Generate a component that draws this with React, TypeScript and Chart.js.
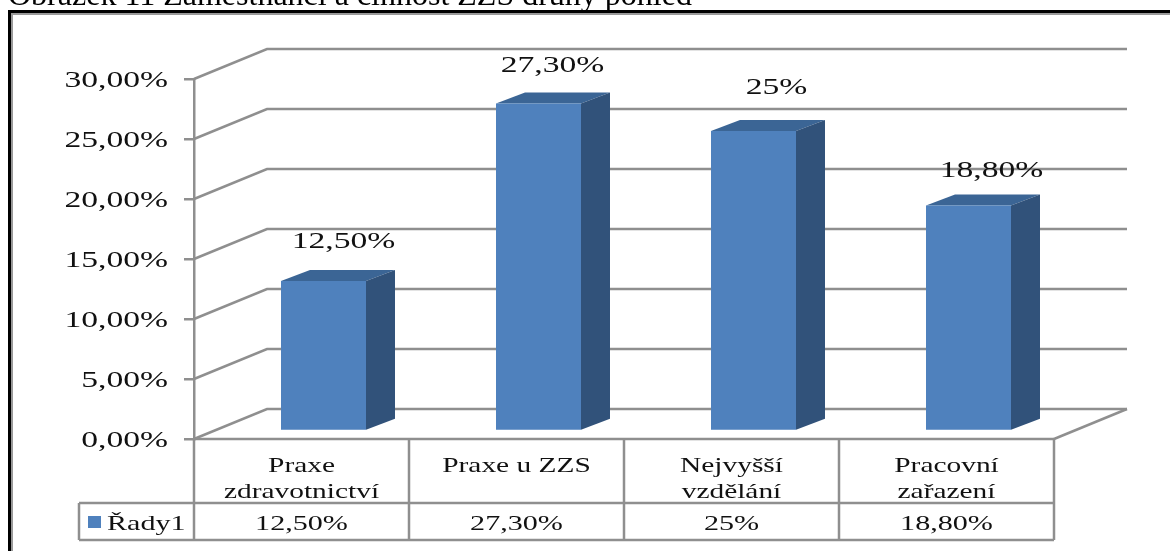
import React, { useEffect, useRef } from "react";
import { Chart, registerables } from "chart.js";

Chart.register(...registerables);

const figureTitle = "Obrázek 11 Zaměstnanci a činnost ZZS druhý pohled";
const categories = [["Praxe", "zdravotnictví"], ["Praxe u ZZS"], ["Nejvyšší", "vzdělání"], ["Pracovní", "zařazení"]];
const seriesName = "Řady1";
const seriesValues = [12.5, 27.3, 25, 18.8];
const valueLabels = ["12,50%", "27,30%", "25%", "18,80%"];
const yMax = 30;
const yStep = 5;

const GRID = "#8f8f8f";
const FRONT = "#4f81bd";
const TOP = "#3b6595";
const SIDE = "#31527a";
const TEXT = "#111111";
const SERIF = "'Liberation Serif', 'Times New Roman', serif";

const PLOT = { left: 194, right: 1054, top: 79, bottom: 439 };
const WALL = { dx: 73, dy: 30 };
const BAR = { dx: 22, dy: 8, depthX: 29, depthY: 11 };
const TABLE = { legendLeft: 79, rowY: 503, bottom: 540 };
const STRETCH = 1.4;
const LABEL_NUDGE = [[20, -39], [14, -38], [23, -43], [23, -35]];

function stretched(ctx: any, fn: () => void, dy = 0) {
  const original = ctx.fillText;
  ctx.fillText = function (t: string, x: number, y: number) {
    ctx.save();
    ctx.translate(x, y + dy);
    ctx.scale(STRETCH, 1);
    original.call(ctx, t, 0, 0);
    ctx.restore();
  };
  fn();
  delete ctx.fillText;
}

const pseudo3d = {
  id: "pseudo3d",
  beforeDraw(chart: any) {
    const ctx = chart.ctx;
    const { x, y } = chart.scales;
    // stretch the axis text, as the source picture is stretched sideways
    [x, y].forEach((s: any) => {
      if (s._wrapped) return;
      const orig = s.drawLabels.bind(s);
      s.drawLabels = (a: any) => stretched(ctx, () => orig(a), s === y ? 2 : 0);
      s._wrapped = true;
    });

    // figure caption and frame
    ctx.save();
    ctx.fillStyle = "#000";
    ctx.font = `32px ${SERIF}`;
    ctx.textBaseline = "alphabetic";
    ctx.textAlign = "left";
    ctx.fillText(figureTitle, 8, 5);
    ctx.strokeStyle = "#000";
    ctx.lineWidth = 3;
    ctx.strokeRect(9.5, 11.5, 1400, 900);
    ctx.strokeStyle = "#9a9a9a";
    ctx.lineWidth = 2;
    ctx.strokeRect(12, 14, 1400, 900);
    ctx.restore();

    // back wall and side wall grid lines
    ctx.save();
    ctx.strokeStyle = GRID;
    ctx.lineWidth = 2.5;
    for (let v = 0; v <= yMax; v += yStep) {
      const py = y.getPixelForValue(v);
      ctx.beginPath();
      ctx.moveTo(PLOT.left, py);
      ctx.lineTo(PLOT.left + WALL.dx, py - WALL.dy);
      ctx.lineTo(PLOT.right + WALL.dx, py - WALL.dy);
      ctx.stroke();
    }
    ctx.beginPath();
    ctx.moveTo(PLOT.right + WALL.dx, PLOT.bottom - WALL.dy);
    ctx.lineTo(PLOT.right, PLOT.bottom);
    ctx.stroke();

    // data table
    const edges = [PLOT.left, ...x.ticks.map((_: any, i: number) => x.getPixelForTick(i) + (PLOT.right - PLOT.left) / categories.length / 2)];
    ctx.beginPath();
    ctx.moveTo(PLOT.left, PLOT.bottom);
    ctx.lineTo(PLOT.right, PLOT.bottom);
    ctx.moveTo(TABLE.legendLeft, TABLE.rowY);
    ctx.lineTo(PLOT.right, TABLE.rowY);
    ctx.moveTo(TABLE.legendLeft, TABLE.bottom);
    ctx.lineTo(PLOT.right, TABLE.bottom);
    ctx.moveTo(TABLE.legendLeft, TABLE.rowY);
    ctx.lineTo(TABLE.legendLeft, TABLE.bottom);
    edges.forEach((e: number) => {
      ctx.moveTo(e, PLOT.bottom);
      ctx.lineTo(e, TABLE.bottom);
    });
    ctx.stroke();
    ctx.restore();

    ctx.save();
    ctx.fillStyle = FRONT;
    ctx.fillRect(TABLE.legendLeft + 9, 516, 13, 12);
    ctx.fillStyle = TEXT;
    ctx.font = `21.5px ${SERIF}`;
    ctx.textBaseline = "middle";
    ctx.textAlign = "center";
    stretched(ctx, () => {
      ctx.textAlign = "left";
      ctx.fillText(seriesName, TABLE.legendLeft + 28, 524);
      ctx.textAlign = "center";
      valueLabels.forEach((t, i) => ctx.fillText(t, x.getPixelForTick(i), 524));
    });
    ctx.restore();
  },
  beforeDatasetDraw(chart: any, args: any) {
    const ctx = chart.ctx;
    ctx.save();
    ctx.translate(BAR.dx, -BAR.dy);
    chart.getDatasetMeta(args.index).data.forEach((b: any) => {
      const l = b.x - b.width / 2;
      const r = b.x + b.width / 2;
      ctx.fillStyle = TOP;
      ctx.beginPath();
      ctx.moveTo(l, b.y);
      ctx.lineTo(l + BAR.depthX, b.y - BAR.depthY);
      ctx.lineTo(r + BAR.depthX, b.y - BAR.depthY);
      ctx.lineTo(r, b.y);
      ctx.closePath();
      ctx.fill();
      ctx.fillStyle = SIDE;
      ctx.beginPath();
      ctx.moveTo(r, b.y);
      ctx.lineTo(r + BAR.depthX, b.y - BAR.depthY);
      ctx.lineTo(r + BAR.depthX, b.base - BAR.depthY);
      ctx.lineTo(r, b.base);
      ctx.closePath();
      ctx.fill();
    });
  },
  afterDatasetDraw(chart: any) {
    chart.ctx.restore();
  },
  afterDatasetsDraw(chart: any) {
    const ctx = chart.ctx;
    ctx.save();
    ctx.fillStyle = TEXT;
    ctx.font = `24px ${SERIF}`;
    ctx.textAlign = "center";
    ctx.textBaseline = "middle";
    stretched(ctx, () => {
      chart.getDatasetMeta(0).data.forEach((b: any, i: number) => {
        ctx.fillText(valueLabels[i], b.x + BAR.dx + LABEL_NUDGE[i][0], b.y - BAR.dy + LABEL_NUDGE[i][1]);
      });
    });
    ctx.restore();
  },
};

export default function App() {
  const ref = useRef<HTMLCanvasElement>(null);
  useEffect(() => {
    const chart = new Chart(ref.current!, {
      type: "bar",
      data: {
        labels: categories as any,
        datasets: [
          {
            label: seriesName,
            data: seriesValues,
            backgroundColor: FRONT,
            barPercentage: 85 / 215,
            categoryPercentage: 1,
          },
        ],
      },
      plugins: [pseudo3d as any],
      options: {
        animation: false,
        responsive: false,
        layout: { padding: { top: PLOT.top, right: 1170 - PLOT.right, left: 0, bottom: 0 } },
        plugins: { legend: { display: false }, tooltip: { enabled: false }, title: { display: false } },
        scales: {
          x: {
            afterFit(s: any) { s.height = 551 - PLOT.bottom; },
            grid: { display: false },
            border: { display: false },
            ticks: {
              autoSkip: false,
              minRotation: 0,
              maxRotation: 0,
              padding: 7,
              color: TEXT,
              font: { family: SERIF, size: 21, lineHeight: 1.22 },
            },
          },
          y: {
            min: 0,
            max: yMax,
            afterFit(s: any) { s.width = PLOT.left; },
            grid: { drawOnChartArea: false, drawTicks: true, tickLength: 10, color: GRID, lineWidth: 2.5 },
            border: { display: true, color: GRID, width: 2.5 },
            ticks: {
              stepSize: yStep,
              padding: 16,
              color: TEXT,
              font: { family: SERIF, size: 24 },
              callback: (v: any) => Number(v).toFixed(2).replace(".", ",") + "%",
            },
          },
        },
      },
    });
    return () => chart.destroy();
  }, []);
  return (
    <div style={{ position: "absolute", left: 0, top: 0, width: 1170, height: 551, overflow: "hidden", background: "#fff" }}>
      <canvas ref={ref} width={1170} height={551} style={{ display: "block", filter: "blur(0.5px)" }} />
    </div>
  );
}
